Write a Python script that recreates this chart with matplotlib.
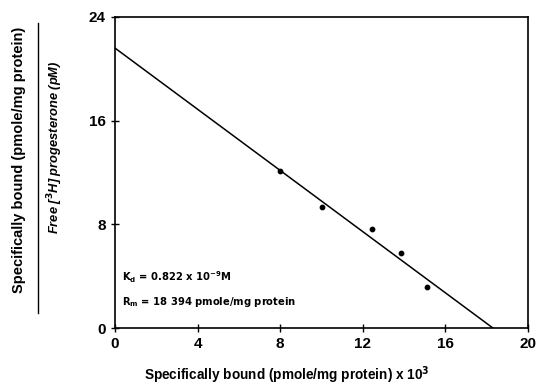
import numpy as np
import matplotlib
matplotlib.use("Agg")
import matplotlib.pyplot as plt
from matplotlib.lines import Line2D

plt.rcParams['font.family'] = ['Liberation Sans', 'DejaVu Sans']

# Scatchard data
bound = [8.0, 10.0, 12.45, 13.85, 15.1]
ratio = [12.1, 9.3, 7.65, 5.75, 3.15]
fit_x = [0.0, 18.3]
fit_y = [21.6, 0.0]
xticks = [0, 4, 8, 12, 16, 20]
yticks = [0, 8, 16, 24]

fig = plt.figure(figsize=(5.39, 3.88), dpi=100)
ax = fig.add_axes([0.2134, 0.1546, 0.7662, 0.8016])

ax.plot(fit_x, fit_y, color='black', lw=1.1)
ax.scatter(bound, ratio, s=10, color='black', zorder=3)

ax.set_xlim(0, 20)
ax.set_ylim(0, 24)
ax.set_xticks(xticks)
ax.set_yticks(yticks)
ax.tick_params(direction='inout', length=6, width=1, labelsize=11)
for lab in ax.get_xticklabels() + ax.get_yticklabels():
    lab.set_fontweight('bold')
for sp in ax.spines.values():
    sp.set_linewidth(1.2)

fig.text(0.533, 0.034, r'Specifically bound (pmole/mg protein) x 10$^{\mathbf{3}}$',
         ha='center', va='center', fontsize=9.8, fontweight='bold')

# fraction-style y label
fig.text(0.036, 0.587, 'Specifically bound (pmole/mg protein)', rotation=90,
         ha='center', va='center', fontsize=10.5, fontweight='bold')
fig.add_artist(Line2D([0.0705, 0.0705], [0.193, 0.94], color='black', lw=1.0,
                      transform=fig.transFigure))
fig.text(0.102, 0.62, r'Free [$^{\mathbf{3}}$H] progesterone (pM)', rotation=90,
         ha='center', va='center', fontsize=9.3, fontweight='bold', style='italic')

ann_font = dict(family='DejaVu Sans', fontsize=7.2, fontweight='bold', va='center')
ax.text(0.018, 0.164, r'K$_{\mathbf{d}}$ = 0.822 x 10$^{\mathbf{-9}}$M', transform=ax.transAxes,
        **ann_font)
ax.text(0.018, 0.084, r'R$_{\mathbf{m}}$ = 18 394 pmole/mg protein', transform=ax.transAxes,
        **ann_font)

fig.savefig('out.png', dpi=100)
